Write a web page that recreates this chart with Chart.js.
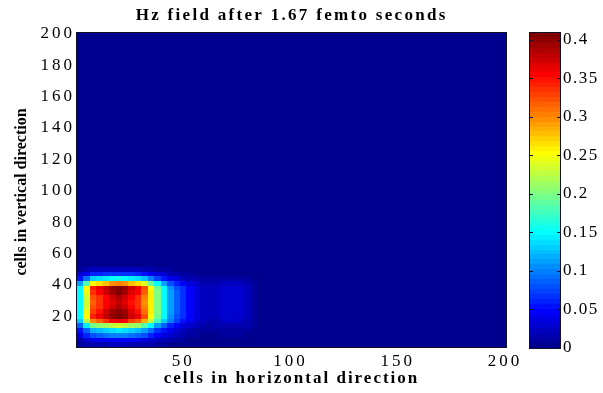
<!DOCTYPE html>
<html>
<head>
<meta charset="utf-8">
<script src="https://cdn.jsdelivr.net/npm/chart.js@4/dist/chart.umd.min.js"></script>
<style>
  html, body { margin: 0; padding: 0; background: #fff; }
  #wrap { position: relative; width: 603px; height: 393px; overflow: hidden; }
  canvas { position: absolute; top: 0; }
  #field { left: 0; }
  #bar { left: 500px; }
</style>
</head>
<body>
<div id="wrap">
  <canvas id="field" width="603" height="393"></canvas>
  <canvas id="bar" width="103" height="393"></canvas>
</div>
<script>
// ---- texts and ticks ----
const titleText = 'Hz field after 1.67 femto seconds';
const xTitle = 'cells in horizontal direction';
const yTitle = 'cells in vertical direction';
const xTicks = [50, 100, 150, 200];
const yTicks = [20, 40, 60, 80, 100, 120, 140, 160, 180, 200];
const barTicks = [0, 0.05, 0.1, 0.15, 0.2, 0.25, 0.3, 0.35, 0.4];

// ---- grid: 200 x 200 cells; the pulse sits in the lower-left corner ----
const gridSize = 200;
// centres of the sampled cells (3-cell blocks); outside them the field is 0
const xCenters = [2, 5, 8, 11, 14, 17, 20, 23, 26, 29, 32, 35, 38, 41, 44, 47, 50, 53, 56, 59, 62, 65, 68, 71, 74, 77, 80, 83, 86, 89];
const yCenters = [2, 5, 8, 11, 14, 17, 20, 23, 26, 29, 32, 35, 38, 41, 44, 47, 50];
// Hz magnitude, one row per yCenters entry (bottom to top)
const hzY02 = [.008,.013,.017,.018,.019,.020,.020,.020,.019,.018,.016,.013,.010,.008,.006,.004,.003,.002,.002,.001,.001,.001,.001,.002,.002,.001,.001,.001,0,0];
const hzY05 = [.018,.030,.041,.043,.046,.048,.049,.048,.045,.043,.038,.031,.024,.018,.013,.010,.008,.006,.004,.003,.002,.003,.003,.004,.004,.003,.003,.001,.001,0];
const hzY08 = [.036,.060,.082,.086,.091,.096,.098,.096,.090,.086,.077,.062,.048,.036,.026,.020,.016,.012,.008,.006,.005,.005,.007,.007,.007,.007,.005,.003,.001,.001];
const hzY11 = [.053,.088,.119,.126,.133,.140,.143,.140,.131,.126,.112,.091,.070,.053,.039,.030,.023,.017,.012,.009,.007,.008,.010,.011,.011,.010,.008,.004,.002,.001];
const hzY14 = [.086,.143,.194,.205,.217,.228,.233,.228,.214,.205,.182,.148,.114,.086,.063,.048,.037,.027,.020,.014,.011,.013,.016,.017,.017,.016,.013,.007,.003,.002];
const hzY17 = [.132,.220,.299,.317,.334,.352,.360,.352,.330,.317,.282,.229,.176,.132,.097,.075,.057,.042,.031,.022,.018,.019,.025,.026,.026,.025,.019,.011,.005,.003];
const hzY20 = [.147,.250,.340,.360,.380,.400,.409,.400,.375,.360,.320,.255,.196,.147,.108,.083,.064,.047,.034,.025,.020,.022,.027,.029,.029,.027,.022,.012,.006,.003];
const hzY23 = [.150,.244,.332,.351,.371,.390,.399,.390,.366,.351,.312,.260,.200,.150,.110,.085,.065,.048,.035,.025,.020,.022,.028,.030,.030,.028,.022,.012,.006,.003];
const hzY26 = [.150,.235,.320,.338,.357,.376,.384,.376,.353,.338,.301,.260,.200,.150,.110,.085,.065,.048,.035,.025,.020,.022,.028,.030,.030,.028,.022,.012,.006,.003];
const hzY29 = [.150,.231,.315,.333,.352,.370,.378,.370,.347,.333,.296,.260,.200,.150,.110,.085,.065,.048,.035,.025,.020,.022,.028,.030,.030,.028,.022,.012,.006,.003];
const hzY32 = [.150,.235,.320,.338,.357,.376,.384,.376,.353,.338,.301,.260,.200,.150,.110,.085,.065,.048,.035,.025,.020,.022,.028,.030,.030,.028,.022,.012,.006,.003];
const hzY35 = [.150,.246,.335,.355,.374,.394,.403,.394,.369,.355,.315,.260,.200,.150,.110,.085,.065,.048,.035,.025,.020,.022,.028,.030,.030,.028,.022,.012,.006,.003];
const hzY38 = [.147,.250,.340,.360,.380,.400,.409,.400,.375,.360,.320,.255,.196,.147,.108,.083,.064,.047,.034,.025,.020,.022,.027,.029,.029,.027,.022,.012,.006,.003];
const hzY41 = [.111,.185,.252,.266,.281,.296,.303,.296,.278,.266,.237,.192,.148,.111,.081,.063,.048,.036,.026,.019,.015,.016,.021,.022,.022,.021,.016,.009,.004,.002];
const hzY44 = [.057,.095,.129,.137,.144,.152,.155,.152,.143,.137,.122,.099,.076,.057,.042,.032,.025,.018,.013,.010,.008,.008,.011,.011,.011,.011,.008,.005,.002,.001];
const hzY47 = [.026,.043,.058,.061,.065,.068,.070,.068,.064,.061,.054,.044,.034,.026,.019,.014,.011,.008,.006,.004,.003,.004,.005,.005,.005,.005,.004,.002,.001,.001];
const hzY50 = [.009,.015,.020,.022,.023,.024,.025,.024,.023,.022,.019,.016,.012,.009,.007,.005,.004,.003,.002,.002,.001,.001,.002,.002,.002,.002,.001,.001,0,0];

const hzRows = [hzY02, hzY05, hzY08, hzY11, hzY14, hzY17, hzY20, hzY23, hzY26, hzY29, hzY32, hzY35, hzY38, hzY41, hzY44, hzY47, hzY50];

// ---- colour map (64-level jet) ----
const cMin = 0;
const cMax = Math.max(...hzRows.flat());
const LEVELS = 64;

function jet(k) { // k = 1..64
  const b = k <= 8 ? (k + 8) / 16 : k <= 23 ? 1 : k <= 39 ? (40 - k) / 16 : 0;
  const g = k <= 8 ? 0 : k <= 24 ? (k - 8) / 16 : k <= 40 ? 1 : k <= 55 ? (56 - k) / 16 : 0;
  const r = k <= 24 ? 0 : k <= 40 ? (k - 24) / 16 : k <= 56 ? 1 : (72 - k) / 16;
  return 'rgb(' + Math.round(r * 255) + ',' + Math.round(g * 255) + ',' + Math.round(b * 255) + ')';
}
function colourOf(v) {
  const k = Math.min(LEVELS, Math.floor((v - cMin) / (cMax - cMin) * LEVELS) + 1);
  return jet(Math.max(1, k));
}

// cells as chart points
const cellW = xCenters[1] - xCenters[0];
const cellH = yCenters[1] - yCenters[0];
const cells = [];
hzRows.forEach((row, j) => row.forEach((v, i) => cells.push({ x: xCenters[i], y: yCenters[j], v: v })));

const serif = "'Liberation Serif', 'Times New Roman', serif";

function spacing(px) {
  return {
    id: 'spacing' + px,
    beforeUpdate(chart) { chart.ctx.letterSpacing = px + 'px'; },
    beforeDraw(chart) { chart.ctx.letterSpacing = px + 'px'; }
  };
}

function drawText(ctx, text, x, y, font, sp, rot) {
  ctx.save();
  ctx.font = font;
  ctx.letterSpacing = sp + 'px';
  ctx.fillStyle = '#000';
  ctx.textAlign = 'center';
  ctx.textBaseline = 'middle';
  ctx.translate(x, y);
  if (rot) ctx.rotate(rot);
  ctx.fillText(text, sp / 2, 0);
  ctx.restore();
}

// draws the cell image through the x / y scales
const heatmap = {
  id: 'heatmap',
  beforeDatasetsDraw(chart) {
    const { ctx, chartArea: a, scales: { x, y } } = chart;
    ctx.save();
    ctx.beginPath();
    ctx.rect(a.left, a.top, a.right - a.left, a.bottom - a.top);
    ctx.clip();
    ctx.fillStyle = colourOf(cMin);
    const l = x.getPixelForValue(0.5), r = x.getPixelForValue(gridSize + 0.5);
    const t = y.getPixelForValue(gridSize + 0.5), b = y.getPixelForValue(0.5);
    ctx.fillRect(l, t, r - l, b - t);
    chart.data.datasets[0].data.forEach(c => {
      const x0 = Math.round(x.getPixelForValue(c.x - cellW / 2));
      const x1 = Math.round(x.getPixelForValue(c.x + cellW / 2));
      const y0 = Math.round(y.getPixelForValue(c.y + cellH / 2));
      const y1 = Math.round(y.getPixelForValue(c.y - cellH / 2));
      ctx.fillStyle = colourOf(c.v);
      ctx.fillRect(x0, y0, x1 - x0, y1 - y0);
    });
    ctx.restore();
  },
  afterDraw(chart) {
    const { ctx, chartArea: a } = chart;
    ctx.save();
    ctx.strokeStyle = '#10102a';
    ctx.lineWidth = 1;
    ctx.strokeRect(a.left - 0.5, a.top - 0.5, a.right - a.left + 1, a.bottom - a.top + 1);
    ctx.restore();
    const cx = (a.left + a.right) / 2;
    drawText(ctx, titleText, cx - 1, 16, 'bold 17px ' + serif, 2.3, 0);
    drawText(ctx, xTitle, cx - 1, 379, 'bold 17px ' + serif, 2.0, 0);
    drawText(ctx, yTitle, 22, (a.top + a.bottom) / 2 + 2, 'bold 16px ' + serif, 0, -Math.PI / 2);
  }
};

new Chart(document.getElementById('field'), {
  type: 'scatter',
  data: { datasets: [{ data: cells, pointRadius: 0, pointHoverRadius: 0 }] },
  options: {
    responsive: false,
    animation: false,
    events: [],
    layout: { padding: { left: 0, top: 33, right: 97, bottom: 0 } },
    plugins: { legend: { display: false }, tooltip: { enabled: false }, title: { display: false } },
    scales: {
      x: {
        type: 'linear', min: 0.5, max: gridSize + 0.5,
        grid: { display: false, drawTicks: false }, border: { display: false },
        afterBuildTicks: s => { s.ticks = xTicks.map(v => ({ value: v })); },
        afterFit: s => { s.height = 46; },
        ticks: { color: '#000', font: { family: serif, size: 17 }, padding: 4, maxRotation: 0, autoSkip: false }
      },
      y: {
        type: 'linear', min: 0.5, max: gridSize + 0.5,
        grid: { display: false, drawTicks: false }, border: { display: false },
        afterBuildTicks: s => { s.ticks = yTicks.map(v => ({ value: v })); },
        afterFit: s => { s.width = 77; },
        ticks: { color: '#000', font: { family: serif, size: 17 }, padding: 2, autoSkip: false }
      }
    }
  },
  plugins: [spacing(3), heatmap]
});

// ---- colour bar ----
const colourBar = {
  id: 'colourBar',
  beforeDatasetsDraw(chart) {
    const { ctx, chartArea: a, scales: { y } } = chart;
    for (let k = 1; k <= LEVELS; k++) {
      const v0 = cMin + (k - 1) / LEVELS * (cMax - cMin);
      const v1 = cMin + k / LEVELS * (cMax - cMin);
      const p0 = Math.round(y.getPixelForValue(v0));
      const p1 = Math.round(y.getPixelForValue(v1));
      ctx.fillStyle = jet(k);
      ctx.fillRect(a.left, p1, a.right - a.left, p0 - p1);
    }
  },
  afterDraw(chart) {
    const { ctx, chartArea: a, scales: { y } } = chart;
    ctx.save();
    ctx.strokeStyle = '#10102a';
    ctx.lineWidth = 1;
    ctx.strokeRect(a.left - 0.5, a.top - 0.5, a.right - a.left + 1, a.bottom - a.top + 1);
    barTicks.forEach(v => {
      const p = Math.round(y.getPixelForValue(v)) + 0.5;
      ctx.beginPath();
      ctx.moveTo(a.left, p); ctx.lineTo(a.left + 3, p);
      ctx.moveTo(a.right, p); ctx.lineTo(a.right - 3, p);
      ctx.stroke();
    });
    ctx.restore();
  }
};

new Chart(document.getElementById('bar'), {
  type: 'scatter',
  data: { datasets: [{ data: [], pointRadius: 0 }] },
  options: {
    responsive: false,
    animation: false,
    events: [],
    layout: { padding: { left: 30, top: 33, right: 0, bottom: 45 } },
    plugins: { legend: { display: false }, tooltip: { enabled: false } },
    scales: {
      x: { display: false, min: 0, max: 1 },
      y: {
        position: 'right', min: cMin, max: cMax,
        grid: { display: false, drawTicks: false }, border: { display: false },
        afterBuildTicks: s => { s.ticks = barTicks.map(v => ({ value: v })); },
        afterFit: s => { s.width = 43; },
        ticks: { color: '#000', font: { family: serif, size: 17 }, padding: 3, autoSkip: false, callback: v => String(v) }
      }
    }
  },
  plugins: [spacing(1.5), colourBar]
});
</script>
</body>
</html>
